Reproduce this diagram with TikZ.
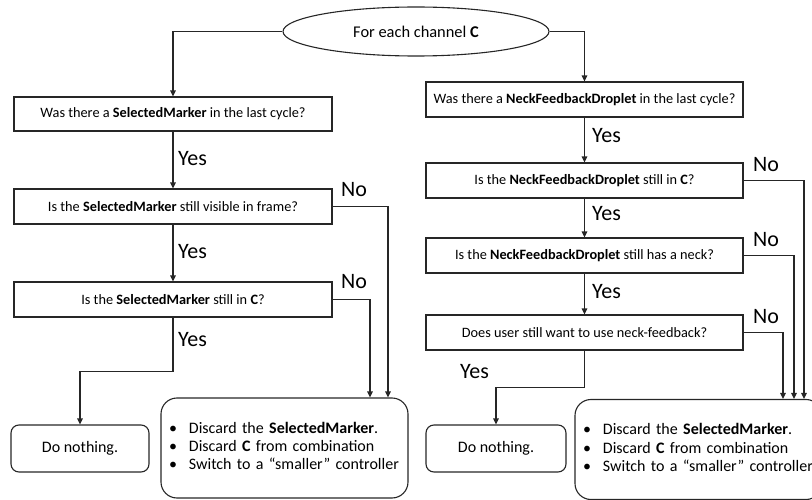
\documentclass[tikz,border=0pt]{standalone}
\usepackage{fontspec}
\setmainfont{Carlito}
\usetikzlibrary{arrows.meta,shapes.geometric}
\begin{document}
\begin{tikzpicture}[x=1pt,y=-1pt,
  line/.style={draw=black!85, line width=1.2pt},
  arr/.style={line, -{Triangle[length=6pt,width=5.5pt]}},
  qbox/.style={draw=black!85, line width=1.1pt, rectangle, inner sep=0pt,
    minimum height=35pt, font=\fontsize{14.3}{16}\selectfont},
  endbox/.style={draw=black!85, line width=1.1pt, rounded corners=8pt,
    inner sep=0pt, minimum height=47pt, font=\fontsize{16}{18}\selectfont},
  listbox/.style={draw=black!85, line width=1.1pt, rounded corners=16pt,
    minimum width=247pt, minimum height=100pt, text width=231pt,
    inner xsep=8pt, inner ysep=0pt, align=left,
    font=\fontsize{16}{18.3}\selectfont},
  ans/.style={inner sep=0pt, anchor=west, font=\fontsize{22}{24}\selectfont},
]
\path[use as bounding box] (0,0) rectangle (812,500);
\clip (0,0) rectangle (812,500);

% start
\node[ellipse, draw=black!85, line width=1.1pt, minimum width=266pt,
  minimum height=49pt, inner sep=0pt, font=\fontsize{16.4}{18}\selectfont]
  (start) at (416,31.5) {For each channel \textbf{C}};

% left branch: selected marker
\node[qbox, minimum width=318pt, minimum height=34pt] (L1) at (173,114)
  {Was there a \textbf{SelectedMarker} in the last cycle?};
\node[qbox, minimum width=318pt] (L2) at (173,206.5)
  {Is the \textbf{SelectedMarker} still visible in frame?};
\node[qbox, minimum width=318pt] (L3) at (173,299.5)
  {Is the \textbf{SelectedMarker} still in \textbf{C}?};
\node[endbox, minimum width=138pt] (N1) at (80,448.5) {Do nothing.};
\node[listbox] (D1) at (284.5,448) {%
  \begin{tabular}{@{}l@{\hspace{12pt}}l@{}}
  \textbullet & Discard the \textbf{SelectedMarker}.\\
  \textbullet & Discard \textbf{C} from combination\\
  \textbullet & Switch to a “smaller” controller
  \end{tabular}};

% right branch: neck-feedback droplet
\node[qbox, minimum width=317pt] (R1) at (584.5,99.5)
  {Was there a \textbf{NeckFeedbackDroplet} in the last cycle?};
\node[qbox, minimum width=317pt] (R2) at (584.5,180.5)
  {Is the \textbf{NeckFeedbackDroplet} still in \textbf{C}?};
\node[qbox, minimum width=317pt] (R3) at (584.5,255.5)
  {Is the \textbf{NeckFeedbackDroplet} still has a neck?};
\node[qbox, minimum width=317pt] (R4) at (584.5,332.5)
  {Does user still want to use neck-feedback?};
\node[endbox, minimum width=140pt] (N2) at (496,448.5) {Do nothing.};
\node[listbox] (D2) at (698.5,449.5) {%
  \begin{tabular}{@{}l@{\hspace{12pt}}l@{}}
  \textbullet & Discard the \textbf{SelectedMarker}.\\
  \textbullet & Discard \textbf{C} from combination\\
  \textbullet & Switch to a “smaller” controller
  \end{tabular}};

% answer labels
\node[ans] (yl1) at (178,158.5) {Yes};
\node[ans] (yl2) at (178,252) {Yes};
\node[ans] (yl3) at (178,340) {Yes};
\node[ans] (nl2) at (341,190) {No};
\node[ans] (nl3) at (341,282) {No};
\node[ans] (yr1) at (592,136) {Yes};
\node[ans] (yr2) at (592,214) {Yes};
\node[ans] (yr3) at (592,292) {Yes};
\node[ans] (yr4) at (460,372) {Yes};
\node[ans] (nr2) at (753,165) {No};
\node[ans] (nr3) at (753,240) {No};
\node[ans] (nr4) at (753,316.5) {No};

% connectors
\draw[arr] (start.west) -| (L1.north);
\draw[arr] (start.east) -| (R1.north);

\draw[arr] (L1.south) -- (L2.north);
\draw[arr] (L2.south) -- (L3.north);
\draw[arr] (L3.south) -- ++(0,54) -| (N1.north);
\draw[arr] (L2.east) -| ([xshift=103.5pt]D1.north);
\draw[arr] (L3.east) -| ([xshift=85.5pt]D1.north);

\draw[arr] (R1.south) -- (R2.north);
\draw[arr] (R2.south) -- (R3.north);
\draw[arr] (R3.south) -- (R4.north);
\draw[arr] (R4.south) -- ++(0,37) -| (N2.north);
\draw[arr] (R2.east) -| ([xshift=105.5pt]D2.north);
\draw[arr] (R3.east) -| ([xshift=95.5pt]D2.north);
\draw[arr] (R4.east) -| ([xshift=84.5pt]D2.north);
\end{tikzpicture}
\end{document}
